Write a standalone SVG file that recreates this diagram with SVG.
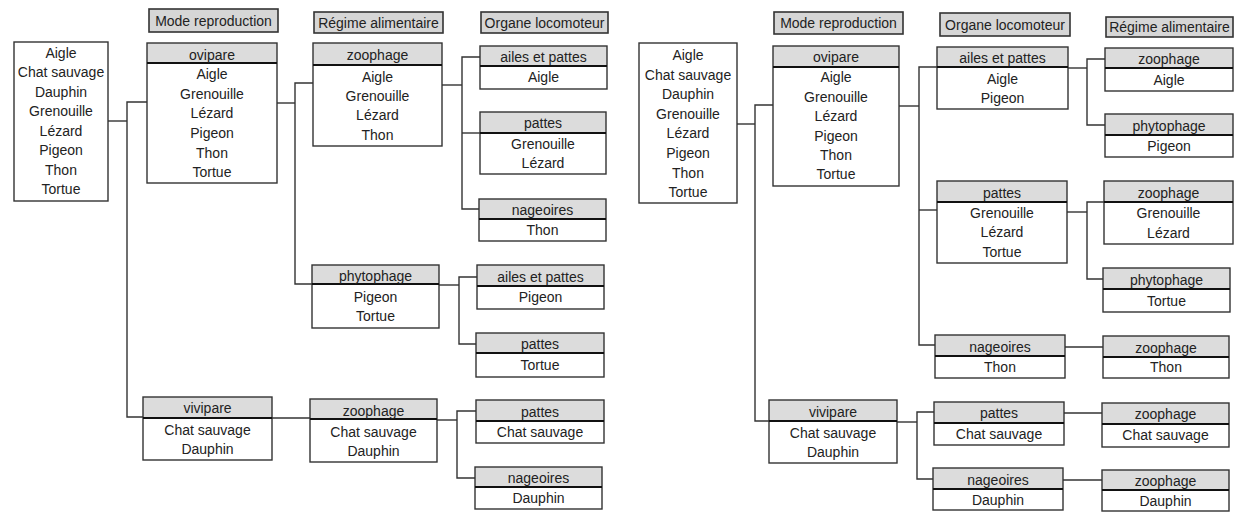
<svg xmlns="http://www.w3.org/2000/svg" width="1234" height="512" viewBox="0 0 1234 512">
<style>
.bg{fill:#ffffff}
.box{fill:none;stroke:#333;stroke-width:1.4}
.hd{fill:#dcdcdc}
.sep{stroke:#111;stroke-width:2}
.col{fill:#d6d6d6;stroke:#333;stroke-width:1.6}
.t{font-family:"Liberation Sans",Arial,sans-serif;font-size:14px;fill:#222;text-anchor:middle}
.c{fill:none;stroke:#333;stroke-width:1.4}
</style>
<rect class="bg" x="0" y="0" width="1234" height="512"/>

<g id="connectors">
<!-- left tree -->
<polyline class="c" points="108,121 127,121"/>
<polyline class="c" points="147,102 127,102 127,417 143,417"/>
<polyline class="c" points="277,103 295,103"/>
<polyline class="c" points="313,83 295,83 295,284 312,284"/>
<polyline class="c" points="272,418 310,418"/>
<polyline class="c" points="442,85 462,85"/>
<polyline class="c" points="480,57 462,57 462,209 479,209"/>
<polyline class="c" points="462,133 480,133"/>
<polyline class="c" points="439,285 459,285"/>
<polyline class="c" points="477,277 459,277 459,344 476,344"/>
<polyline class="c" points="437,420 457,420"/>
<polyline class="c" points="476,411 457,411 457,478 475,478"/>
<!-- right tree -->
<polyline class="c" points="737,124 755,124"/>
<polyline class="c" points="773,105 755,105 755,421 769,421"/>
<polyline class="c" points="899,106 919,106"/>
<polyline class="c" points="937,67 919,67 919,345 935,345"/>
<polyline class="c" points="919,210 937,210"/>
<polyline class="c" points="897,422 917,422"/>
<polyline class="c" points="934,412 917,412 917,479 933,479"/>
<polyline class="c" points="1068,68 1087,68"/>
<polyline class="c" points="1105,59 1087,59 1087,125 1105,125"/>
<polyline class="c" points="1067,212 1087,212"/>
<polyline class="c" points="1104,202 1087,202 1087,279 1103,279"/>
<polyline class="c" points="1065,347 1103,347"/>
<polyline class="c" points="1064,413 1102,413"/>
<polyline class="c" points="1063,480 1102,480"/>
</g>

<!-- column headers -->
<g id="L-col-mode"><rect class="col" x="149" y="9" width="129" height="23"/><text class="t" x="213.5" y="26">Mode reproduction</text></g>
<g id="L-col-regime"><rect class="col" x="314" y="12" width="129" height="21"/><text class="t" x="378.5" y="28">Régime alimentaire</text></g>
<g id="L-col-organe"><rect class="col" x="481" y="12" width="127" height="21"/><text class="t" x="544.5" y="28">Organe locomoteur</text></g>
<g id="R-col-mode"><rect class="col" x="774" y="12" width="129" height="22"/><text class="t" x="838.5" y="28">Mode reproduction</text></g>
<g id="R-col-organe"><rect class="col" x="940" y="13" width="130" height="23"/><text class="t" x="1005" y="30">Organe locomoteur</text></g>
<g id="R-col-regime"><rect class="col" x="1106" y="17" width="127" height="20"/><text class="t" x="1169.5" y="32">Régime alimentaire</text></g>

<!-- left tree nodes -->
<g id="L-root">
<rect class="box" x="14" y="42" width="94" height="159"/>
<text class="t" x="61" y="58">Aigle</text>
<text class="t" x="61" y="77">Chat sauvage</text>
<text class="t" x="61" y="97">Dauphin</text>
<text class="t" x="61" y="116">Grenouille</text>
<text class="t" x="61" y="136">Lézard</text>
<text class="t" x="61" y="155">Pigeon</text>
<text class="t" x="61" y="175">Thon</text>
<text class="t" x="61" y="194">Tortue</text>
</g>
<g id="L-ovipare">
<rect class="hd" x="147" y="43" width="130" height="20"/>
<rect class="box" x="147" y="43" width="130" height="140"/>
<line class="sep" x1="147" y1="63" x2="277" y2="63"/>
<text class="t" x="212" y="60">ovipare</text>
<text class="t" x="212" y="79">Aigle</text>
<text class="t" x="212" y="99">Grenouille</text>
<text class="t" x="212" y="118">Lézard</text>
<text class="t" x="212" y="138">Pigeon</text>
<text class="t" x="212" y="158">Thon</text>
<text class="t" x="212" y="177">Tortue</text>
</g>
<g id="L-vivipare">
<rect class="hd" x="143" y="397" width="129" height="21"/>
<rect class="box" x="143" y="397" width="129" height="63"/>
<line class="sep" x1="143" y1="418" x2="272" y2="418"/>
<text class="t" x="207.5" y="413">vivipare</text>
<text class="t" x="207.5" y="435">Chat sauvage</text>
<text class="t" x="207.5" y="454">Dauphin</text>
</g>
<g id="L-zoophage-1">
<rect class="hd" x="313" y="43" width="129" height="22"/>
<rect class="box" x="313" y="43" width="129" height="103"/>
<line class="sep" x1="313" y1="65" x2="442" y2="65"/>
<text class="t" x="377.5" y="60">zoophage</text>
<text class="t" x="377.5" y="82">Aigle</text>
<text class="t" x="377.5" y="101">Grenouille</text>
<text class="t" x="377.5" y="120">Lézard</text>
<text class="t" x="377.5" y="140">Thon</text>
</g>
<g id="L-phytophage">
<rect class="hd" x="312" y="265" width="127" height="19"/>
<rect class="box" x="312" y="265" width="127" height="63"/>
<line class="sep" x1="312" y1="284" x2="439" y2="284"/>
<text class="t" x="375.5" y="281">phytophage</text>
<text class="t" x="375.5" y="302">Pigeon</text>
<text class="t" x="375.5" y="321">Tortue</text>
</g>
<g id="L-zoophage-2">
<rect class="hd" x="310" y="399" width="127" height="20"/>
<rect class="box" x="310" y="399" width="127" height="63"/>
<line class="sep" x1="310" y1="419" x2="437" y2="419"/>
<text class="t" x="373.5" y="416">zoophage</text>
<text class="t" x="373.5" y="437">Chat sauvage</text>
<text class="t" x="373.5" y="456">Dauphin</text>
</g>
<g id="L-ailes-1">
<rect class="hd" x="480" y="46" width="127" height="20"/>
<rect class="box" x="480" y="46" width="127" height="43"/>
<line class="sep" x1="480" y1="66" x2="607" y2="66"/>
<text class="t" x="543.5" y="62">ailes et pattes</text>
<text class="t" x="543.5" y="82">Aigle</text>
</g>
<g id="L-pattes-1">
<rect class="hd" x="480" y="112" width="126" height="21"/>
<rect class="box" x="480" y="112" width="126" height="62"/>
<line class="sep" x1="480" y1="133" x2="606" y2="133"/>
<text class="t" x="543" y="128">pattes</text>
<text class="t" x="543" y="149">Grenouille</text>
<text class="t" x="543" y="168">Lézard</text>
</g>
<g id="L-nageoires-1">
<rect class="hd" x="479" y="199" width="127" height="20"/>
<rect class="box" x="479" y="199" width="127" height="42"/>
<line class="sep" x1="479" y1="219" x2="606" y2="219"/>
<text class="t" x="542.5" y="215">nageoires</text>
<text class="t" x="542.5" y="235">Thon</text>
</g>
<g id="L-ailes-2">
<rect class="hd" x="477" y="265" width="127" height="21"/>
<rect class="box" x="477" y="265" width="127" height="44"/>
<line class="sep" x1="477" y1="286" x2="604" y2="286"/>
<text class="t" x="540.5" y="282">ailes et pattes</text>
<text class="t" x="540.5" y="302">Pigeon</text>
</g>
<g id="L-pattes-2">
<rect class="hd" x="476" y="333" width="128" height="20"/>
<rect class="box" x="476" y="333" width="128" height="44"/>
<line class="sep" x1="476" y1="353" x2="604" y2="353"/>
<text class="t" x="540" y="349">pattes</text>
<text class="t" x="540" y="370">Tortue</text>
</g>
<g id="L-pattes-3">
<rect class="hd" x="476" y="400" width="128" height="21"/>
<rect class="box" x="476" y="400" width="128" height="43"/>
<line class="sep" x1="476" y1="421" x2="604" y2="421"/>
<text class="t" x="540" y="417">pattes</text>
<text class="t" x="540" y="437">Chat sauvage</text>
</g>
<g id="L-nageoires-2">
<rect class="hd" x="475" y="467" width="127" height="20"/>
<rect class="box" x="475" y="467" width="127" height="42"/>
<line class="sep" x1="475" y1="487" x2="602" y2="487"/>
<text class="t" x="538.5" y="483">nageoires</text>
<text class="t" x="538.5" y="503">Dauphin</text>
</g>

<!-- right tree nodes -->
<g id="R-root">
<rect class="box" x="639" y="43" width="98" height="160"/>
<text class="t" x="688" y="60">Aigle</text>
<text class="t" x="688" y="80">Chat sauvage</text>
<text class="t" x="688" y="99">Dauphin</text>
<text class="t" x="688" y="119">Grenouille</text>
<text class="t" x="688" y="138">Lézard</text>
<text class="t" x="688" y="158">Pigeon</text>
<text class="t" x="688" y="178">Thon</text>
<text class="t" x="688" y="197">Tortue</text>
</g>
<g id="R-ovipare">
<rect class="hd" x="773" y="46" width="126" height="21"/>
<rect class="box" x="773" y="46" width="126" height="140"/>
<line class="sep" x1="773" y1="67" x2="899" y2="67"/>
<text class="t" x="836" y="62">ovipare</text>
<text class="t" x="836" y="82">Aigle</text>
<text class="t" x="836" y="102">Grenouille</text>
<text class="t" x="836" y="121">Lézard</text>
<text class="t" x="836" y="141">Pigeon</text>
<text class="t" x="836" y="160">Thon</text>
<text class="t" x="836" y="179">Tortue</text>
</g>
<g id="R-vivipare">
<rect class="hd" x="769" y="400" width="128" height="21"/>
<rect class="box" x="769" y="400" width="128" height="63"/>
<line class="sep" x1="769" y1="421" x2="897" y2="421"/>
<text class="t" x="833" y="417">vivipare</text>
<text class="t" x="833" y="438">Chat sauvage</text>
<text class="t" x="833" y="457">Dauphin</text>
</g>
<g id="R-ailes">
<rect class="hd" x="937" y="47" width="131" height="20"/>
<rect class="box" x="937" y="47" width="131" height="62"/>
<line class="sep" x1="937" y1="67" x2="1068" y2="67"/>
<text class="t" x="1002.5" y="63">ailes et pattes</text>
<text class="t" x="1002.5" y="84">Aigle</text>
<text class="t" x="1002.5" y="103">Pigeon</text>
</g>
<g id="R-pattes-1">
<rect class="hd" x="937" y="181" width="130" height="21"/>
<rect class="box" x="937" y="181" width="130" height="82"/>
<line class="sep" x1="937" y1="202" x2="1067" y2="202"/>
<text class="t" x="1002" y="198">pattes</text>
<text class="t" x="1002" y="218">Grenouille</text>
<text class="t" x="1002" y="237">Lézard</text>
<text class="t" x="1002" y="257">Tortue</text>
</g>
<g id="R-nageoires-1">
<rect class="hd" x="935" y="335" width="130" height="21"/>
<rect class="box" x="935" y="335" width="130" height="43"/>
<line class="sep" x1="935" y1="356" x2="1065" y2="356"/>
<text class="t" x="1000" y="352">nageoires</text>
<text class="t" x="1000" y="372">Thon</text>
</g>
<g id="R-pattes-2">
<rect class="hd" x="934" y="402" width="130" height="21"/>
<rect class="box" x="934" y="402" width="130" height="43"/>
<line class="sep" x1="934" y1="423" x2="1064" y2="423"/>
<text class="t" x="999" y="418">pattes</text>
<text class="t" x="999" y="439">Chat sauvage</text>
</g>
<g id="R-nageoires-2">
<rect class="hd" x="933" y="468" width="130" height="21"/>
<rect class="box" x="933" y="468" width="130" height="42"/>
<line class="sep" x1="933" y1="489" x2="1063" y2="489"/>
<text class="t" x="998" y="485">nageoires</text>
<text class="t" x="998" y="505">Dauphin</text>
</g>
<g id="R-zoophage-1">
<rect class="hd" x="1105" y="48" width="128" height="20"/>
<rect class="box" x="1105" y="48" width="128" height="43"/>
<line class="sep" x1="1105" y1="68" x2="1233" y2="68"/>
<text class="t" x="1169" y="64">zoophage</text>
<text class="t" x="1169" y="85">Aigle</text>
</g>
<g id="R-phytophage-1">
<rect class="hd" x="1105" y="114" width="128" height="21"/>
<rect class="box" x="1105" y="114" width="128" height="43"/>
<line class="sep" x1="1105" y1="135" x2="1233" y2="135"/>
<text class="t" x="1169" y="131">phytophage</text>
<text class="t" x="1169" y="151">Pigeon</text>
</g>
<g id="R-zoophage-2">
<rect class="hd" x="1104" y="181" width="129" height="21"/>
<rect class="box" x="1104" y="181" width="129" height="63"/>
<line class="sep" x1="1104" y1="202" x2="1233" y2="202"/>
<text class="t" x="1168.5" y="198">zoophage</text>
<text class="t" x="1168.5" y="218">Grenouille</text>
<text class="t" x="1168.5" y="238">Lézard</text>
</g>
<g id="R-phytophage-2">
<rect class="hd" x="1103" y="268" width="127" height="21"/>
<rect class="box" x="1103" y="268" width="127" height="44"/>
<line class="sep" x1="1103" y1="289" x2="1230" y2="289"/>
<text class="t" x="1166.5" y="285">phytophage</text>
<text class="t" x="1166.5" y="306">Tortue</text>
</g>
<g id="R-zoophage-3">
<rect class="hd" x="1103" y="336" width="126" height="21"/>
<rect class="box" x="1103" y="336" width="126" height="42"/>
<line class="sep" x1="1103" y1="357" x2="1229" y2="357"/>
<text class="t" x="1166" y="353">zoophage</text>
<text class="t" x="1166" y="372">Thon</text>
</g>
<g id="R-zoophage-4">
<rect class="hd" x="1102" y="403" width="127" height="21"/>
<rect class="box" x="1102" y="403" width="127" height="44"/>
<line class="sep" x1="1102" y1="424" x2="1229" y2="424"/>
<text class="t" x="1165.5" y="419">zoophage</text>
<text class="t" x="1165.5" y="440">Chat sauvage</text>
</g>
<g id="R-zoophage-5">
<rect class="hd" x="1102" y="470" width="127" height="20"/>
<rect class="box" x="1102" y="470" width="127" height="41"/>
<line class="sep" x1="1102" y1="490" x2="1229" y2="490"/>
<text class="t" x="1165.5" y="486">zoophage</text>
<text class="t" x="1165.5" y="506">Dauphin</text>
</g>
</svg>
